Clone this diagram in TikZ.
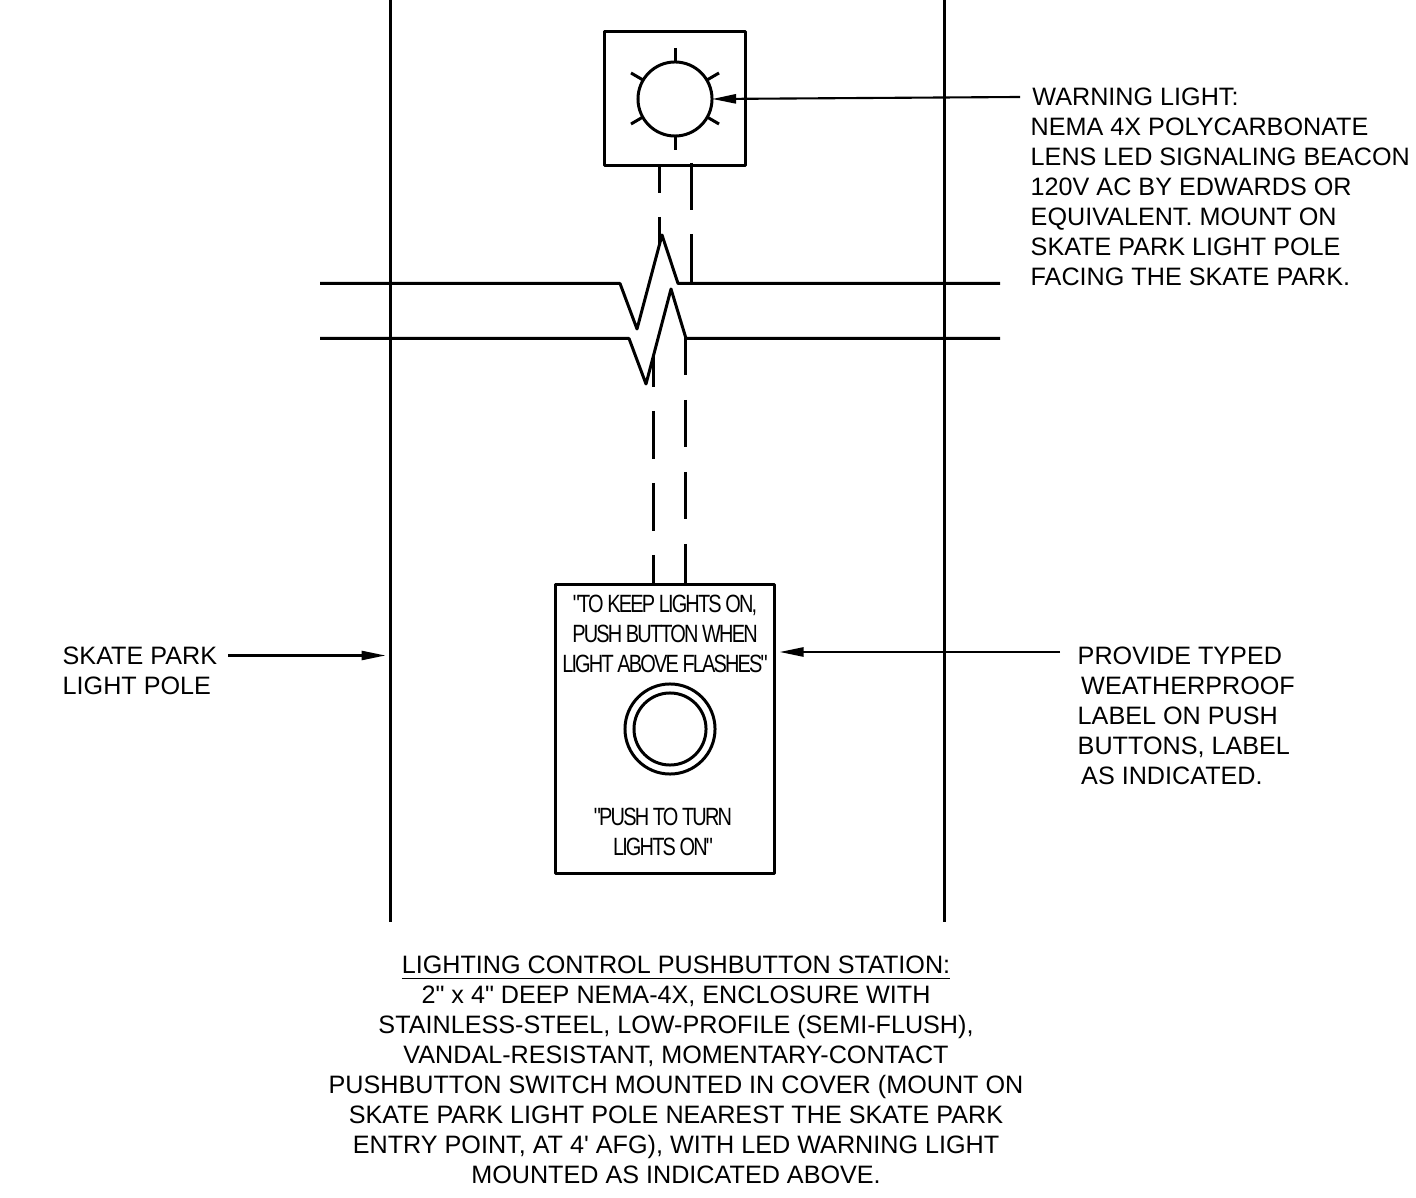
\documentclass[tikz,border=0pt]{standalone}
\usepackage{fontspec}
\newfontfamily\notefont{Liberation Sans}
\newfontfamily\platefont[FakeStretch=0.8,LetterSpace=-7.4]{Liberation Sans}
\usetikzlibrary{arrows.meta}

\tikzset{
	pole/.style={line width=0.85pt},
	wire/.style={line width=0.85pt},
	leader/.style={-{Triangle[length=6.8pt,width=2.6pt]},line width=0.6pt,shorten >=-0.4pt},
	note/.style={inner sep=0pt,align=left,anchor=north west,font=\fontsize{7.16pt}{8.55pt}\selectfont\notefont},
	plate/.style={inner sep=0pt,align=center,font=\fontsize{7.1pt}{8.55pt}\selectfont\platefont},
}

\begin{document}
\begin{tikzpicture}[x=0.01cm,y=-0.01cm,line join=round]

\useasboundingbox (0,0) rectangle (1416,1198);

% light pole
\draw[pole] (390,0)--(390,922);
\draw[pole] (944,0)--(944,922);

% warning light
\node[draw,pole,minimum width=1.40cm,minimum height=1.33cm,inner sep=0pt] (lightbox) at (675,98.5) {};
\node[draw,pole,circle,minimum size=0.74cm,inner sep=0pt] (lamp) at (675,99) {};
\draw[pole] (675,48)--(675,62);
\draw[pole] (675,136)--(675,150);
\draw[pole] (631,73)--(643,80);
\draw[pole] (719,73)--(707,80);
\draw[pole] (631,124)--(643,117);
\draw[pole] (719,124)--(707,117);

% conduit above the break
\draw[wire] (659.5,165)--(659.5,193);
\draw[wire] (659.5,217)--(659.5,245);
\draw[wire] (691.5,163)--(691.5,210);
\draw[wire] (691.5,234)--(691.5,283);

% break lines
\draw[wire] (320,283.5)--(620,283.5)--(637,329)--(662,235)--(678,283.5)--(1000,283.5);
\draw[wire] (320,338.5)--(629,338.5)--(646,384)--(671,289)--(686,338.5)--(1000,338.5);

% conduit below the break
\draw[wire] (653,355)--(653,387);
\draw[wire] (653,411)--(653,459);
\draw[wire] (653,483)--(653,531);
\draw[wire] (653,555)--(653,585);
\draw[wire] (685,338)--(685,375);
\draw[wire] (685,400)--(685,447);
\draw[wire] (685,472)--(685,519);
\draw[wire] (685,544)--(685,585);

% pushbutton station
\node[draw,pole,minimum width=2.18cm,minimum height=2.88cm,inner sep=0pt] (station) at (665,729) {};
\node[draw,pole,circle,minimum size=0.90cm,inner sep=0pt] (ring) at (670,729) {};
\node[draw,pole,circle,minimum size=0.72cm,inner sep=0pt] (button) at (670,729) {};
\node[plate] (plate1) at (665,634) {"TO KEEP LIGHTS ON,\\PUSH BUTTON WHEN\\LIGHT ABOVE FLASHES"};
\node[plate] (plate2) at (663,832) {"PUSH TO TURN\\LIGHTS ON"};

% notes
\node[note] (warn) at (1030,87) {\hspace*{0.5pt}WARNING LIGHT:\\NEMA 4X POLYCARBONATE\\LENS LED SIGNALING BEACON\\120V AC BY EDWARDS OR\\EQUIVALENT. MOUNT ON\\SKATE PARK LIGHT POLE\\FACING THE SKATE PARK.};
\node[note] (typed) at (1077,646) {PROVIDE TYPED\\\hspace*{1pt}WEATHERPROOF\\LABEL ON PUSH\\BUTTONS, LABEL\\\hspace*{1pt}AS INDICATED.};
\node[note] (pole) at (62,646) {SKATE PARK\\LIGHT POLE};
\node[note,align=center,anchor=north] (station note) at (676,955) {\underline{LIGHTING CONTROL PUSHBUTTON STATION:}\\2" x 4" DEEP NEMA-4X, ENCLOSURE WITH\\STAINLESS-STEEL, LOW-PROFILE (SEMI-FLUSH),\\VANDAL-RESISTANT, MOMENTARY-CONTACT\\PUSHBUTTON SWITCH MOUNTED IN COVER (MOUNT ON\\SKATE PARK LIGHT POLE NEAREST THE SKATE PARK\\ENTRY POINT, AT 4' AFG), WITH LED WARNING LIGHT\\MOUNTED AS INDICATED ABOVE.};

% leaders
\coordinate (warn end) at (1020,97);
\coordinate (typed end) at (1060,652);
\coordinate (pole end) at (228,655.5);
\coordinate (pole tip) at (384,655.5);
\coordinate (station tip) at (781,652);
\draw[leader] (warn end)--(lamp.east);
\draw[leader] (typed end)--(station tip);
\draw[leader] (pole end)--(pole tip);

\end{tikzpicture}
\end{document}
